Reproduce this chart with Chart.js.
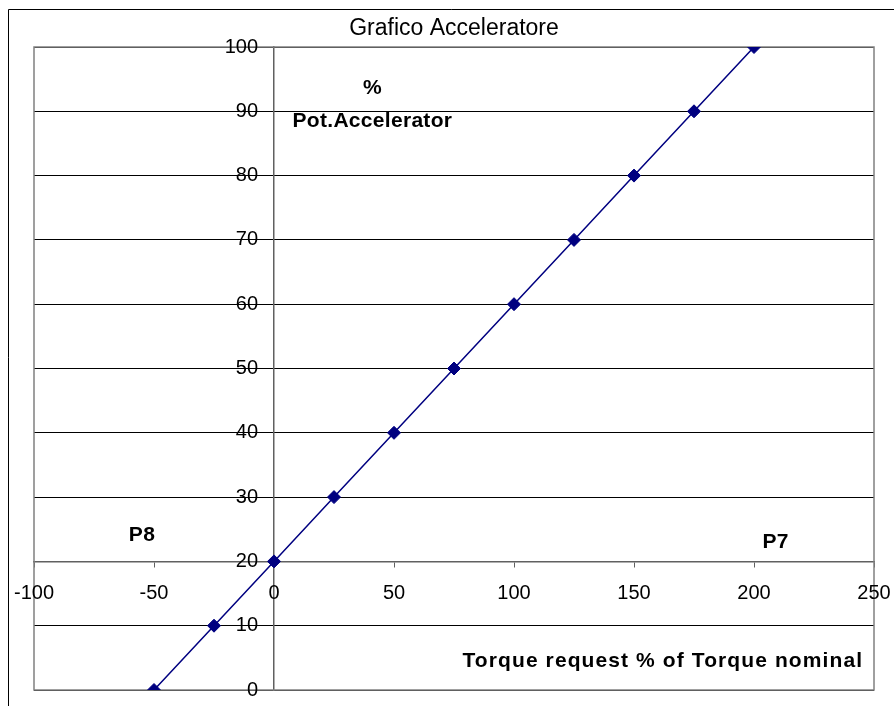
<!DOCTYPE html>
<html>
<head>
<meta charset="utf-8">
<title>Grafico Acceleratore</title>
<script src="https://cdn.jsdelivr.net/npm/chart.js@4/dist/chart.umd.min.js"></script>
<style>
  html, body { margin: 0; padding: 0; background: #fff; }
  canvas { display: block; }
</style>
</head>
<body>
<canvas id="chart" width="894" height="706"></canvas>
<script>
// data
const torqueRequest = [-50, -25, 0, 25, 50, 75, 100, 125, 150, 175, 200];
const potAccelerator = [0, 10, 20, 30, 40, 50, 60, 70, 80, 90, 100];
const xTicks = [-100, -50, 0, 50, 100, 150, 200, 250];
const yTicks = [0, 10, 20, 30, 40, 50, 60, 70, 80, 90, 100];
const chartTitle = 'Grafico Acceleratore';

// free text labels placed on the plot (in data units)
const noteTexts = ['%', 'Pot.Accelerator', 'P8', 'P7', 'Torque request % of Torque nominal'];
const noteX = [41, 41, -55, 209, 162];
const noteY = [93.6, 88.4, 24.1, 23, 4.5];

const FONT = 'Arial, "Liberation Sans", sans-serif';
const navy = '#000080';

const excelLook = {
  id: 'excelLook',
  beforeDraw(chart) {
    const ctx = chart.ctx;
    ctx.save();
    ctx.fillStyle = '#fff';
    ctx.fillRect(0, 0, chart.width, chart.height);
    // outer chart border (cut off right and bottom)
    ctx.strokeStyle = '#000';
    ctx.lineWidth = 1;
    ctx.beginPath();
    ctx.moveTo(8.5, chart.height);
    ctx.lineTo(8.5, 9.5);
    ctx.lineTo(chart.width, 9.5);
    ctx.stroke();
    ctx.restore();
  },
  beforeDatasetsDraw(chart) {
    const ctx = chart.ctx;
    const a = chart.chartArea;
    const xs = chart.scales.x, ys = chart.scales.y;
    ctx.save();
    ctx.strokeStyle = '#808080';
    ctx.lineWidth = 1.5;
    ctx.strokeRect(a.left, a.top, a.right - a.left, a.bottom - a.top);

    // tick labels, Excel style: axes cross at x=0 / y=20
    ctx.fillStyle = '#000';
    ctx.font = '20px ' + FONT;
    const axisX = xs.getPixelForValue(0);
    const axisY = ys.getPixelForValue(20);
    ctx.textAlign = 'right';
    ctx.textBaseline = 'middle';
    yTicks.forEach(v => ctx.fillText(String(v), axisX - 16, ys.getPixelForValue(v)));
    ctx.textAlign = 'center';
    xTicks.forEach(v => ctx.fillText(String(v), xs.getPixelForValue(v), axisY + 32));
    ctx.restore();
  },
  afterDraw(chart) {
    const ctx = chart.ctx;
    const a = chart.chartArea;
    const xs = chart.scales.x, ys = chart.scales.y;
    ctx.save();
    ctx.fillStyle = '#000';
    ctx.textAlign = 'center';
    ctx.textBaseline = 'middle';
    ctx.font = '23px ' + FONT;
    ctx.fillText(chartTitle, (a.left + a.right) / 2, a.top - 18);

    ctx.font = 'bold 21px ' + FONT;
    noteTexts.forEach((t, i) => {
      ctx.letterSpacing = t.length > 20 ? '1.1px' : '0.3px';
      ctx.fillText(t, xs.getPixelForValue(noteX[i]), ys.getPixelForValue(noteY[i]));
    });
    ctx.restore();
  }
};

new Chart(document.getElementById('chart').getContext('2d'), {
  type: 'scatter',
  data: {
    datasets: [{
      data: torqueRequest.map((x, i) => ({ x: x, y: potAccelerator[i] })),
      showLine: true,
      borderColor: navy,
      borderWidth: 1.5,
      backgroundColor: navy,
      pointStyle: 'rectRot',
      pointRadius: 6.5,
      pointBorderWidth: 1,
      pointBorderColor: navy,
      pointBackgroundColor: navy
    }]
  },
  options: {
    responsive: false,
    animation: false,
    layout: { padding: { left: 34, top: 47, right: 20, bottom: 16 } },
    plugins: {
      legend: { display: false },
      title: { display: false },
      tooltip: { enabled: false }
    },
    scales: {
      x: {
        type: 'linear',
        position: { y: 20 },
        min: -100,
        max: 250,
        afterBuildTicks: s => { s.ticks = xTicks.map(v => ({ value: v })); },
        grid: { display: true, drawOnChartArea: false, drawTicks: true, tickLength: 5, color: '#606060' },
        border: { display: true, color: '#606060', width: 1.5 },
        ticks: { display: false }
      },
      y: {
        type: 'linear',
        position: { x: 0 },
        min: 0,
        max: 100,
        afterBuildTicks: s => { s.ticks = yTicks.map(v => ({ value: v })); },
        grid: { display: true, drawOnChartArea: true, drawTicks: true, tickLength: 5, color: '#000', lineWidth: 1 },
        border: { display: true, color: '#606060', width: 1.5 },
        ticks: { display: false }
      }
    }
  },
  plugins: [excelLook]
});
</script>
</body>
</html>
